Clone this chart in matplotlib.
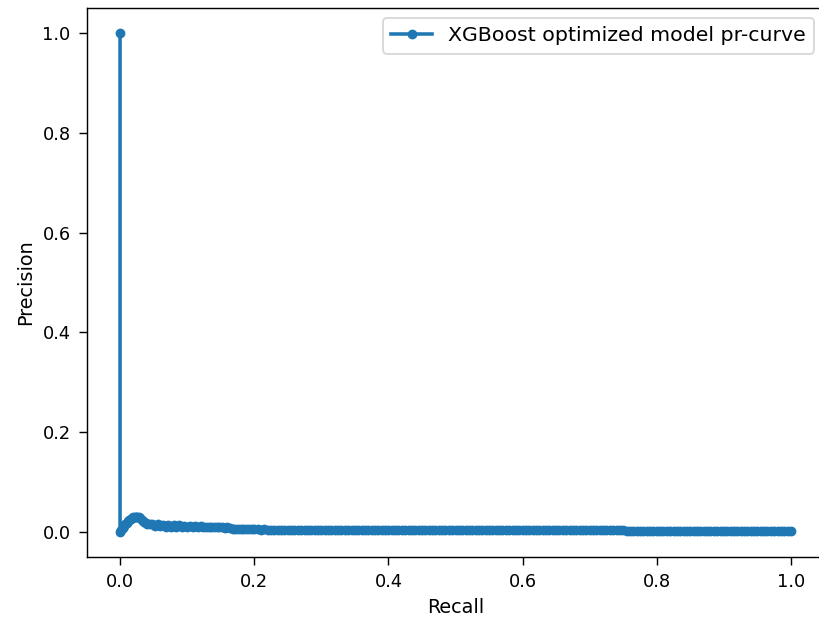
import matplotlib
matplotlib.use("Agg")
import matplotlib.pyplot as plt

# precision-recall points (recall descending, as sklearn returns them)
recall_tail = [1.000, 0.995, 0.990, 0.985, 0.980, 0.975, 0.970, 0.965, 0.960, 0.955,
               0.950, 0.945, 0.940, 0.935, 0.930, 0.925, 0.920, 0.915, 0.910, 0.905,
               0.900, 0.895, 0.890, 0.885, 0.880, 0.875, 0.870, 0.865, 0.860, 0.855,
               0.850, 0.845, 0.840, 0.835, 0.830, 0.825, 0.820, 0.815, 0.810, 0.805,
               0.800, 0.795, 0.790, 0.785, 0.780, 0.775, 0.770, 0.765, 0.760, 0.755]
precision_tail = [0.0017, 0.0017, 0.0018, 0.0017, 0.0018, 0.0018, 0.0017, 0.0018, 0.0018, 0.0019,
                  0.0018, 0.0018, 0.0019, 0.0018, 0.0019, 0.0019, 0.0018, 0.0019, 0.0019, 0.0020,
                  0.0019, 0.0019, 0.0020, 0.0019, 0.0020, 0.0020, 0.0019, 0.0020, 0.0020, 0.0021,
                  0.0020, 0.0020, 0.0021, 0.0020, 0.0021, 0.0021, 0.0020, 0.0021, 0.0021, 0.0022,
                  0.0021, 0.0021, 0.0022, 0.0021, 0.0022, 0.0022, 0.0021, 0.0022, 0.0022, 0.0023]

recall_mid = [0.750, 0.745, 0.740, 0.735, 0.730, 0.725, 0.720, 0.715, 0.710, 0.705,
              0.700, 0.695, 0.690, 0.685, 0.680, 0.675, 0.670, 0.665, 0.660, 0.655,
              0.650, 0.645, 0.640, 0.635, 0.630, 0.625, 0.620, 0.615, 0.610, 0.605,
              0.600, 0.595, 0.590, 0.585, 0.580, 0.575, 0.570, 0.565, 0.560, 0.555,
              0.550, 0.545, 0.540, 0.535, 0.530, 0.525, 0.520, 0.515, 0.510, 0.505,
              0.500, 0.495, 0.490, 0.485, 0.480, 0.475, 0.470, 0.465, 0.460, 0.455,
              0.450, 0.445, 0.440, 0.435, 0.430, 0.425, 0.420, 0.415, 0.410, 0.405,
              0.400, 0.395, 0.390, 0.385, 0.380, 0.375, 0.370, 0.365, 0.360, 0.355,
              0.350, 0.345, 0.340, 0.335, 0.330, 0.325, 0.320, 0.315, 0.310, 0.305,
              0.300, 0.295, 0.290, 0.285, 0.280, 0.275, 0.270, 0.265, 0.260, 0.255,
              0.250, 0.245, 0.240, 0.235, 0.230, 0.225, 0.220, 0.215, 0.210, 0.205]
precision_mid = [0.0040, 0.0042, 0.0041, 0.0043, 0.0040, 0.0042, 0.0044, 0.0041, 0.0043, 0.0042,
                 0.0041, 0.0043, 0.0042, 0.0040, 0.0042, 0.0044, 0.0043, 0.0041, 0.0042, 0.0043,
                 0.0042, 0.0040, 0.0043, 0.0042, 0.0044, 0.0041, 0.0042, 0.0043, 0.0041, 0.0042,
                 0.0043, 0.0042, 0.0041, 0.0044, 0.0042, 0.0043, 0.0041, 0.0042, 0.0044, 0.0043,
                 0.0042, 0.0041, 0.0043, 0.0042, 0.0044, 0.0042, 0.0043, 0.0041, 0.0043, 0.0042,
                 0.0044, 0.0042, 0.0043, 0.0041, 0.0042, 0.0044, 0.0043, 0.0042, 0.0041, 0.0043,
                 0.0042, 0.0044, 0.0043, 0.0042, 0.0044, 0.0043, 0.0042, 0.0045, 0.0043, 0.0044,
                 0.0042, 0.0043, 0.0045, 0.0044, 0.0043, 0.0045, 0.0044, 0.0043, 0.0045, 0.0044,
                 0.0045, 0.0043, 0.0044, 0.0046, 0.0045, 0.0044, 0.0046, 0.0045, 0.0044, 0.0046,
                 0.0045, 0.0047, 0.0046, 0.0045, 0.0047, 0.0046, 0.0048, 0.0047, 0.0046, 0.0048,
                 0.0047, 0.0049, 0.0048, 0.0050, 0.0049, 0.0051, 0.0050, 0.0052, 0.0051, 0.0053]

recall_head = [0.200, 0.196, 0.192, 0.188, 0.184, 0.180, 0.176, 0.172, 0.168, 0.164,
               0.160, 0.156, 0.152, 0.148, 0.144, 0.140, 0.136, 0.132, 0.128, 0.124,
               0.120, 0.116, 0.112, 0.108, 0.104, 0.100, 0.096, 0.092, 0.088, 0.084,
               0.080, 0.076, 0.072, 0.068, 0.064, 0.060, 0.056, 0.052, 0.048, 0.044,
               0.040]
precision_head = [0.0054, 0.0056, 0.0055, 0.0058, 0.0060, 0.0059, 0.0062, 0.0064, 0.0070, 0.0085,
                  0.0095, 0.0088, 0.0102, 0.0092, 0.0105, 0.0096, 0.0108, 0.0098, 0.0110, 0.0100,
                  0.0112, 0.0102, 0.0114, 0.0104, 0.0116, 0.0110, 0.0130, 0.0100, 0.0140, 0.0105,
                  0.0145, 0.0100, 0.0150, 0.0108, 0.0148, 0.0112, 0.0152, 0.0115, 0.0155, 0.0160,
                  0.0165]

recall_start = [0.038, 0.036, 0.034, 0.032, 0.030, 0.028, 0.026, 0.024, 0.022, 0.020,
                0.018, 0.016, 0.014, 0.012, 0.010, 0.008, 0.006, 0.004, 0.002, 0.000,
                0.000]
precision_start = [0.0180, 0.0200, 0.0225, 0.0250, 0.0275, 0.0295, 0.0305, 0.0310, 0.0305, 0.0295,
                   0.0280, 0.0260, 0.0240, 0.0215, 0.0190, 0.0160, 0.0125, 0.0090, 0.0050, 0.0000,
                   1.0000]

recall = recall_tail + recall_mid + recall_head + recall_start
precision = precision_tail + precision_mid + precision_head + precision_start

fig = plt.figure(figsize=(819 / 128, 628 / 128), dpi=128)
# axes run a little past the right edge of the picture, as in the (cropped) reference
ax = fig.add_axes([86.5 / 819, 1 - 557 / 628, 738 / 819, 549 / 628])
ax.plot(recall, precision, marker='.', markersize=9, linewidth=2,
        label='XGBoost optimized model pr-curve')
ax.spines['right'].set_visible(False)  # falls outside the cropped picture
ax.tick_params(length=4.5, pad=4.5)
ax.set_xlabel('Recall', fontsize=10.8)
ax.set_ylabel('Precision', fontsize=10.8)
ax.legend(fontsize=11.5)
fig.savefig('out.png', dpi=128)
